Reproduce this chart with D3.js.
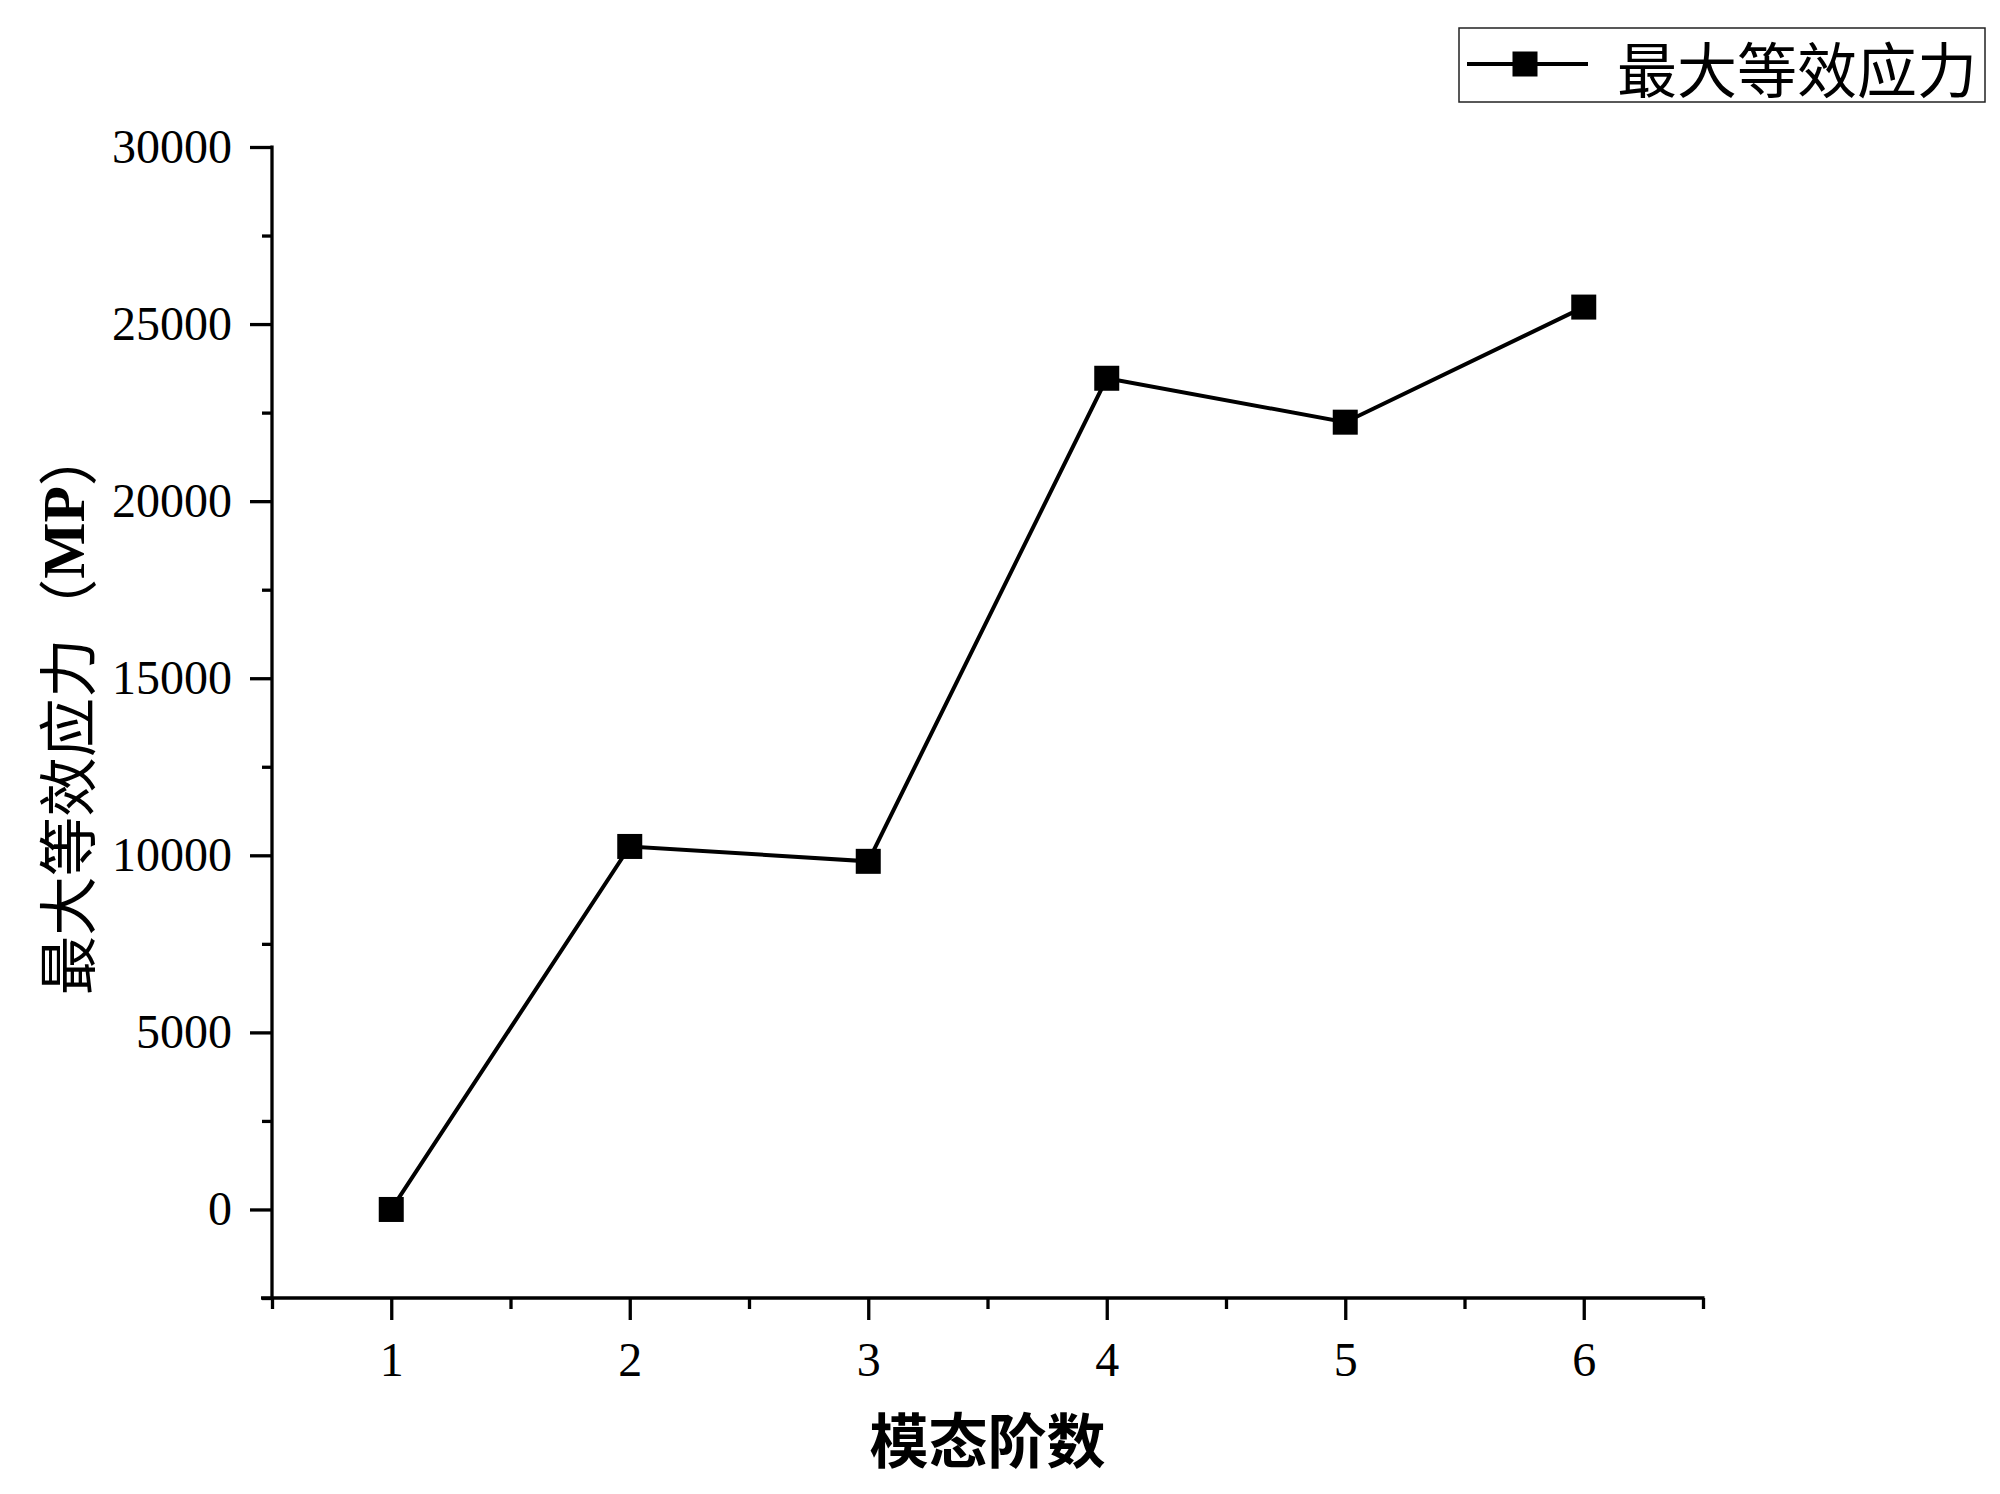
<!DOCTYPE html>
<html>
<head>
<meta charset="utf-8">
<script src="https://cdn.jsdelivr.net/npm/d3@7"></script>
<style>
  html, body { margin: 0; padding: 0; background: #fff; }
  svg { display: block; }
</style>
</head>
<body>
<script>
// ---- data ----
const modes = [1, 2, 3, 4, 5, 6];
const stress = [0, 10250, 9830, 23470, 22230, 25480];
const yMajorTicks = [0, 5000, 10000, 15000, 20000, 25000, 30000];
const yMinorTicks = [-2500, 2500, 7500, 12500, 17500, 22500, 27500];
const xMajorTicks = [1, 2, 3, 4, 5, 6];
const xMinorTicks = [0.5, 1.5, 2.5, 3.5, 4.5, 5.5, 6.5];
const seriesName = "最大等效应力";
const xTitle = "模态阶数";
const yTitleMain = "最大等效应力";
const yTitleUnit = "MP";

(function () {
// ---- layout ----
const W = 2000, H = 1494;
const pLeft = 272, pRight = 1703, pTop = 147, pBottom = 1298;
const serif = "'Liberation Serif', 'DejaVu Serif', serif";
const cjk = "'Noto Sans CJK SC', 'Noto Sans CJK JP', sans-serif";

const svg = d3.select("body").append("svg").attr("width", W).attr("height", H);

const x = d3.scaleLinear().domain([0.5, 6.5]).range([pLeft, pRight]);
const y = d3.scaleLinear().domain([-2500, 30000]).range([pBottom, pTop]);

const axisW = 3.3;

// Y axis
const gy = svg.append("g").attr("transform", `translate(${pLeft},0)`);
gy.append("g").call(d3.axisLeft(y).tickValues(yMinorTicks).tickSize(10).tickSizeOuter(0).tickFormat(""));
gy.append("g").call(d3.axisLeft(y).tickValues(yMajorTicks).tickSize(22).tickSizeOuter(0).tickPadding(18).tickFormat(d3.format("d")));
gy.selectAll("path.domain").remove();
gy.append("line").attr("x1", 0).attr("x2", 0).attr("y1", pTop - 1.5).attr("y2", pBottom + 1.5)
  .attr("stroke", "#000").attr("stroke-width", axisW);

// X axis
const gx = svg.append("g").attr("transform", `translate(0,${pBottom})`);
gx.append("g").call(d3.axisBottom(x).tickValues(xMinorTicks).tickSize(11).tickSizeOuter(0).tickFormat(""));
gx.append("g").call(d3.axisBottom(x).tickValues(xMajorTicks).tickSize(22).tickSizeOuter(0).tickPadding(22).tickFormat(d3.format("d")));
gx.selectAll("path.domain").remove();
gx.append("line").attr("x1", pLeft - 11).attr("x2", pRight + 1.5).attr("y1", 0).attr("y2", 0)
  .attr("stroke", "#000").attr("stroke-width", axisW);

svg.selectAll(".tick line").attr("stroke", "#000").attr("stroke-width", axisW);
svg.selectAll(".tick text").attr("fill", "#000").style("font-family", serif).style("font-size", "48px");

// Series line
const line = d3.line().x((d, i) => x(modes[i])).y(d => y(d));
svg.append("path").datum(stress).attr("d", line)
  .attr("fill", "none").attr("stroke", "#000").attr("stroke-width", 4).attr("stroke-linejoin", "miter");

const ms = 25;
svg.append("g").selectAll("rect").data(stress).join("rect")
  .attr("x", (d, i) => x(modes[i]) - ms / 2)
  .attr("y", d => y(d) - ms / 2)
  .attr("width", ms).attr("height", ms).attr("fill", "#000");

// X title
svg.append("text").attr("x", (pLeft + pRight) / 2).attr("y", 1437)
  .attr("text-anchor", "middle").attr("dominant-baseline", "central")
  .style("font-family", cjk).style("font-size", "59px").style("font-weight", "bold")
  .text(xTitle);

// Y title
const yt = svg.append("text")
  .attr("transform", "translate(64,711) rotate(-90)")
  .attr("text-anchor", "middle").attr("dominant-baseline", "central")
  .style("font-size", "59.5px");
yt.append("tspan").style("font-family", cjk).text(yTitleMain + "（");
yt.append("tspan").style("font-family", serif).style("font-weight", "bold").text(yTitleUnit);
yt.append("tspan").style("font-family", cjk).text("）");

// Legend
const lg = svg.append("g");
lg.append("rect").attr("x", 1459).attr("y", 28).attr("width", 526).attr("height", 74)
  .attr("fill", "#fff").attr("stroke", "#222").attr("stroke-width", 1.5);
lg.append("line").attr("x1", 1467).attr("x2", 1588).attr("y1", 64).attr("y2", 64)
  .attr("stroke", "#000").attr("stroke-width", 4);
lg.append("rect").attr("x", 1525 - ms / 2).attr("y", 64 - ms / 2).attr("width", ms).attr("height", ms).attr("fill", "#000");
lg.append("text").attr("x", 1617).attr("y", 66).attr("dominant-baseline", "central")
  .style("font-family", cjk).style("font-size", "60px").text(seriesName);
})();
</script>
</body>
</html>
